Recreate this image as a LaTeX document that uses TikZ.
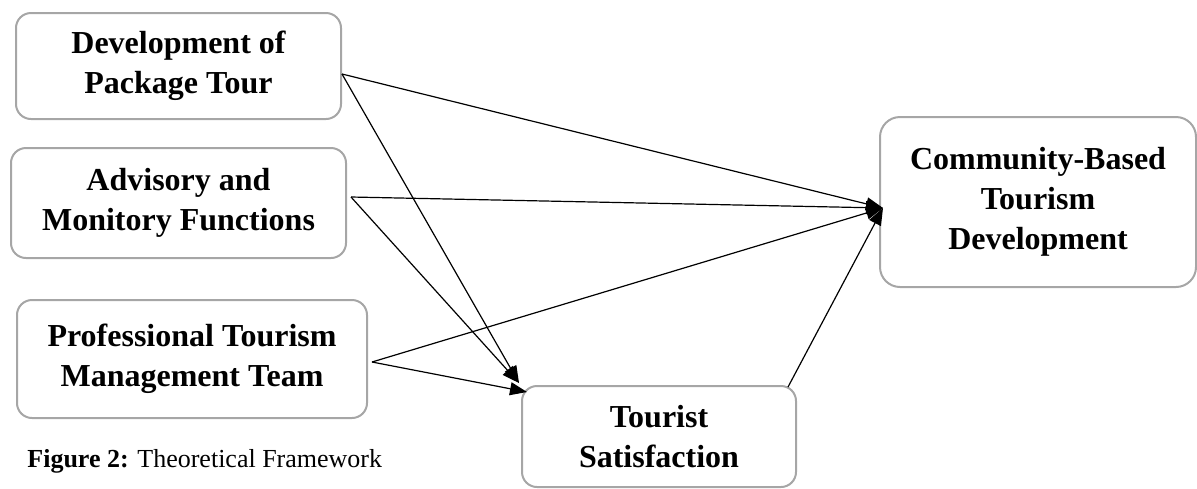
\documentclass[tikz,border=0pt]{standalone}
\usepackage{fontspec}
\setmainfont{Liberation Serif}
\usepackage{tikz}
\usetikzlibrary{positioning,arrows.meta}
\tikzset{%
	factor/.style={%
		rectangle,
		rounded corners=7.5pt,
		draw=black!35,
		line width=1pt,
		align=center,
		inner sep=0pt,
		font=\fontsize{16}{20}\selectfont\bfseries
	},
	link/.style={%
		-{Triangle[length=8.5pt,width=6.5pt]},
		line width=0.6pt
	}
}

\begin{document}
\begin{tikzpicture}[x=0.5pt, y=-0.5pt]
        \useasboundingbox (0,0) rectangle (1197,488);
        % factors
        \node [factor, minimum width=162.5pt, minimum height=53pt] (dev) at (178.5,66) {Development of\\Package Tour};
        \node [factor, minimum width=167.5pt, minimum height=55pt] (adv) at (178.5,203) {Advisory and\\Monitory Functions};
        \node [factor, minimum width=175pt, minimum height=59pt] (prof) at (192,359) {Professional Tourism\\Management Team};
        \node [factor, rounded corners=10pt, minimum width=158pt, minimum height=85pt] (cbt) at (1038,202) {Community-Based\\Tourism\\Development};
        \node [factor, minimum width=137pt, minimum height=50.5pt] (sat) at (659,436.5) {Tourist\\Satisfaction};
        \node [anchor=base west, inner sep=0pt, font=\fontsize{13}{15}\selectfont] (cap) at (27,467) {\textbf{Figure 2:} Theoretical Framework};
        % paths
        \draw [link] ([yshift=-4pt]dev.east) -- ([xshift=2pt,yshift=-3pt]cbt.west);
        \draw [link] ([yshift=-4pt]dev.east) -- ([xshift=-1pt,yshift=1pt]sat.north west);
        \draw [link] ([xshift=2pt,yshift=3pt]adv.east) -- ([xshift=2pt,yshift=-3pt]cbt.west);
        \draw [link] ([xshift=2pt,yshift=3pt]adv.east) -- ([xshift=-1pt,yshift=1pt]sat.north west);
        \draw [link] ([xshift=2pt,yshift=-1.5pt]prof.east) -- ([xshift=2pt,yshift=-3pt]cbt.west);
        \draw [link] ([xshift=2pt,yshift=-1.5pt]prof.east) -- ([xshift=3pt,yshift=-3.5pt]sat.north west);
        \draw [link] ([xshift=-4.5pt,yshift=-1pt]sat.north east) -- ([xshift=2pt,yshift=-3pt]cbt.west);
    \end{tikzpicture}
\end{document}
